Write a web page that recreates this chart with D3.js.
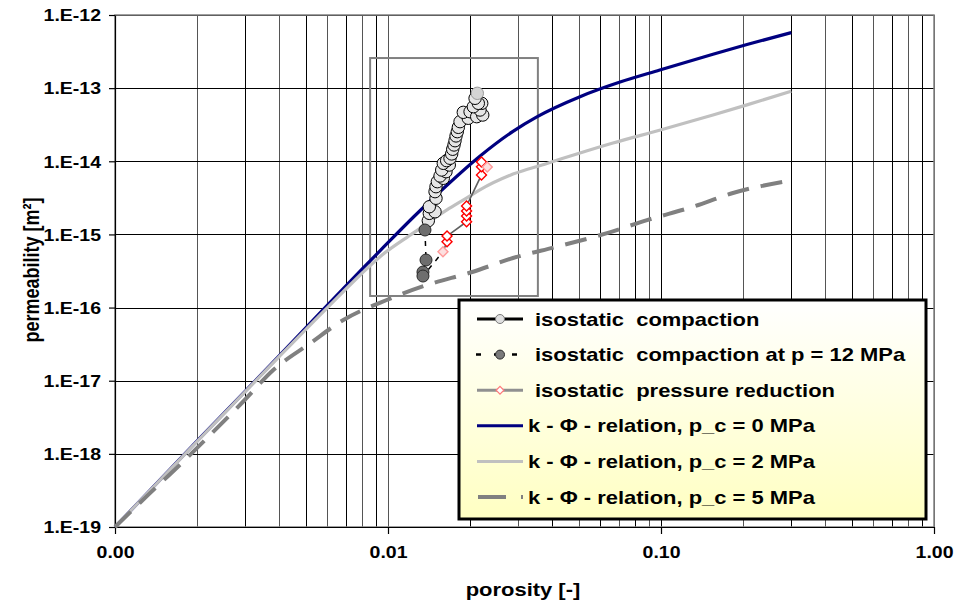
<!DOCTYPE html>
<html>
<head>
<meta charset="utf-8">
<script src="https://cdn.jsdelivr.net/npm/d3@7"></script>
<style>
  body { margin: 0; background: #fff; }
  svg { display: block; font-family: "Liberation Sans", Arial, sans-serif; font-weight: bold; }
</style>
</head>
<body>
<div id="chart"></div>
<script>
// Axis ticks
const xTickValues = [0.001, 0.01, 0.1, 1];
const xTickLabels = ['0.00', '0.01', '0.10', '1.00'];
const yTickValues = [1e-19, 1e-18, 1e-17, 1e-16, 1e-15, 1e-14, 1e-13, 1e-12];
const yTickLabels = ['1.E-19', '1.E-18', '1.E-17', '1.E-16', '1.E-15', '1.E-14', '1.E-13', '1.E-12'];

// Measurements: isostatic compaction
const compactionPhi = [0.01405, 0.01417, 0.01487, 0.01417, 0.01499, 0.01487, 0.01499, 0.01516, 0.01594, 0.01551,
    0.01631, 0.01573, 0.01677, 0.01594, 0.01640, 0.01687, 0.01711, 0.01726, 0.01745, 0.01760, 0.01775, 0.01794,
    0.01810, 0.01836, 0.01968, 0.01887, 0.01998, 0.02113, 0.02224, 0.02173, 0.02054, 0.02205, 0.02142, 0.02084, 0.02124];
const compactionK = [1.54e-15, 1.94e-15, 2.04e-15, 2.39e-15, 3.12e-15, 3.84e-15, 4.49e-15, 5.26e-15, 5.85e-15, 6.29e-15,
    7.20e-15, 7.60e-15, 8.89e-15, 9.38e-15, 1.02e-14, 1.10e-14, 1.26e-14, 1.46e-14, 1.67e-14, 1.91e-14, 2.22e-14, 2.54e-14,
    2.91e-14, 3.48e-14, 3.87e-14, 4.67e-14, 4.76e-14, 4.07e-14, 4.29e-14, 5.02e-14, 5.57e-14, 6.20e-14, 6.20e-14, 7.26e-14, 8.50e-14];

// Measurements: isostatic compaction at p = 12 MPa
const p12Phi = [0.01366, 0.01378, 0.01343, 0.01343];
const p12K = [1.15e-15, 4.47e-16, 3.06e-16, 2.70e-16];

// Measurements: isostatic pressure reduction
const reductionPhi = [0.0159, 0.01645, 0.01645, 0.0194, 0.0194, 0.0194, 0.0194, 0.0220, 0.0220, 0.0220, 0.0231];
const reductionK = [5.8e-16, 7.96e-16, 9.5e-16, 1.49e-15, 1.79e-15, 2.09e-15, 2.45e-15, 6.5e-15, 8.4e-15, 9.8e-15, 8.35e-15];

// k - Phi relations
const relation0Phi = [0.001, 0.002, 0.004, 0.006, 0.008, 0.0094, 0.0124, 0.0164, 0.0217, 0.0287, 0.0351, 0.0505, 0.0708, 0.099, 0.155, 0.2065, 0.3];
const relation0K = [1.0e-19, 1.5e-18, 2.2e-17, 1.08e-16, 3.3e-16, 6.1e-16, 1.73e-15, 4.67e-15, 1.175e-14, 2.57e-14, 4.05e-14, 7.64e-14, 1.21e-13, 1.77e-13, 2.91e-13, 3.95e-13, 5.74e-13];

const relation2Phi = [0.001, 0.002, 0.004, 0.006, 0.008, 0.00935, 0.01236, 0.01644, 0.01945, 0.0217, 0.0287, 0.0382, 0.0505, 0.0667, 0.0995, 0.155, 0.2065, 0.3];
const relation2K = [1.0e-19, 1.48e-18, 2.15e-17, 1.0e-16, 2.9e-16, 4.96e-16, 1.04e-15, 2.16e-15, 3.16e-15, 4.07e-15, 6.68e-15, 9.33e-15, 1.3e-14, 1.78e-14, 2.68e-14, 4.3e-14, 5.9e-14, 9.1e-14];

const relation5Phi = [0.001, 0.00134, 0.00175, 0.00223, 0.00295, 0.0038, 0.00518, 0.00686, 0.00989, 0.01386, 0.0205, 0.0287, 0.0416, 0.0634, 0.0889, 0.131, 0.1835, 0.3];
const relation5K = [1.0e-19, 2.88e-19, 7.4e-19, 1.81e-18, 5.2e-18, 1.4e-17, 3.24e-17, 6.76e-17, 1.27e-16, 2.03e-16, 3.09e-16, 4.76e-16, 6.8e-16, 1.04e-15, 1.57e-15, 2.39e-15, 3.68e-15, 5.5e-15];

// Zoom frame drawn around the measurements
const framePhi = [0.0086, 0.0354];
const frameK = [1.44e-16, 2.58e-13];

const legendLabels = [
    'isostatic  compaction',
    'isostatic  compaction at p = 12 MPa',
    'isostatic  pressure reduction',
    'k - \u03A6 - relation, p_c = 0 MPa',
    'k - \u03A6 - relation, p_c = 2 MPa',
    'k - \u03A6 - relation, p_c = 5 MPa'
];

// ---- layout ----
const width = 958, height = 610;
const plot = { left: 115, right: 934, top: 15, bottom: 527 };
const stretch = 'scale(1.22,1)';

const svg = d3.select('#chart')
    .append('svg')
    .attr('width', width)
    .attr('height', height);

const x = d3.scaleLog().domain([0.001, 1]).range([plot.left, plot.right]);
const y = d3.scaleLog().domain([1e-19, 1e-12]).range([plot.bottom, plot.top]);

const pts = (px, ky) => px.map((p, i) => [p, ky[i]]);

// Plot background
svg.append('rect')
    .attr('x', plot.left).attr('y', plot.top)
    .attr('width', plot.right - plot.left).attr('height', plot.bottom - plot.top)
    .attr('fill', '#fff');

// Vertical grid lines (every log tick)
svg.append('g')
    .attr('transform', `translate(0,${plot.top})`)
    .call(d3.axisBottom(x).ticks(10)
        .tickSize(plot.bottom - plot.top).tickSizeOuter(0).tickFormat(''))
    .call(g => g.select('.domain').remove())
    .selectAll('line')
    .attr('stroke', (d, i) => i % 2 ? '#555' : '#000')
    .attr('stroke-width', 1)
    .attr('shape-rendering', 'crispEdges');

// Horizontal grid lines (decades)
svg.append('g')
    .attr('transform', `translate(${plot.left},0)`)
    .call(d3.axisLeft(y).tickValues(yTickValues)
        .tickSize(-(plot.right - plot.left)).tickSizeOuter(0).tickFormat(''))
    .call(g => g.select('.domain').remove())
    .selectAll('line')
    .attr('stroke', '#000').attr('stroke-width', 1)
    .attr('shape-rendering', 'crispEdges');

// Plot border (grey top/right)
svg.append('rect')
    .attr('x', plot.left).attr('y', plot.top)
    .attr('width', plot.right - plot.left).attr('height', plot.bottom - plot.top)
    .attr('fill', 'none').attr('stroke', '#808080').attr('stroke-width', 1.5);

// Y axis
const yAxis = svg.append('g')
    .attr('transform', `translate(${plot.left},0)`)
    .call(d3.axisLeft(y).tickValues(yTickValues).tickSize(6).tickSizeOuter(0)
        .tickFormat((d, i) => yTickLabels[i]));
yAxis.attr('font-family', null).attr('font-size', 16);
yAxis.selectAll('line, path').attr('stroke', '#000').attr('stroke-width', 1.2);
yAxis.selectAll('text')
    .attr('x', null).attr('dy', '0.36em').attr('fill', '#000')
    .attr('transform', `translate(-14,0) ${stretch}`);

// X axis
const xAxis = svg.append('g')
    .attr('transform', `translate(0,${plot.bottom})`)
    .call(d3.axisBottom(x).tickValues(xTickValues).tickSize(7).tickSizeOuter(0)
        .tickFormat((d, i) => xTickLabels[i]));
xAxis.attr('font-family', null).attr('font-size', 16);
xAxis.selectAll('line, path').attr('stroke', '#000').attr('stroke-width', 1.2);
xAxis.selectAll('text')
    .attr('y', 31).attr('dy', null).attr('fill', '#000')
    .attr('transform', stretch);

// Axis titles
svg.append('text')
    .attr('transform', `translate(523,596) ${stretch}`)
    .attr('text-anchor', 'middle')
    .style('font-size', '18px')
    .text('porosity [-]');

svg.append('text')
    .attr('transform', `translate(39,270) ${stretch} rotate(-90)`)
    .attr('text-anchor', 'middle')
    .style('font-size', '18px')
    .text('permeability [m\u00B2]');

// Zoom frame
svg.append('rect')
    .attr('x', x(framePhi[0])).attr('y', y(frameK[1]))
    .attr('width', x(framePhi[1]) - x(framePhi[0]))
    .attr('height', y(frameK[0]) - y(frameK[1]))
    .attr('fill', 'none').attr('stroke', '#808080').attr('stroke-width', 2);

// Curves
const line = d3.line().x(d => x(d[0])).y(d => y(d[1]));
const smooth = d3.line().x(d => x(d[0])).y(d => y(d[1])).curve(d3.curveMonotoneX);

const plotArea = svg.append('g');

plotArea.append('path')
    .datum(pts(relation0Phi, relation0K))
    .attr('d', smooth).attr('fill', 'none')
    .attr('stroke', '#000080').attr('stroke-width', 3.2);

plotArea.append('path')
    .datum(pts(relation2Phi, relation2K))
    .attr('d', smooth).attr('fill', 'none')
    .attr('stroke', '#c0c0c0').attr('stroke-width', 3.2);

plotArea.append('path')
    .datum(pts(relation5Phi, relation5K))
    .attr('d', smooth).attr('fill', 'none')
    .attr('stroke', '#808080').attr('stroke-width', 4)
    .attr('stroke-dasharray', '22,12');

// Measurement lines
const compaction = pts(compactionPhi, compactionK);
const p12 = pts(p12Phi, p12K);
const reduction = pts(reductionPhi, reductionK);

plotArea.append('path')
    .datum(reduction)
    .attr('d', line).attr('fill', 'none')
    .attr('stroke', '#606060').attr('stroke-width', 1.6);

plotArea.append('path')
    .datum(p12.concat([reduction[0]]))
    .attr('d', line).attr('fill', 'none')
    .attr('stroke', '#000').attr('stroke-width', 1.5)
    .attr('stroke-dasharray', '5,6');

plotArea.append('path')
    .datum(compaction)
    .attr('d', line).attr('fill', 'none')
    .attr('stroke', '#000').attr('stroke-width', 1.5);

// Markers
plotArea.selectAll('.comp')
    .data(compaction)
    .enter().append('circle')
    .attr('class', 'comp')
    .attr('cx', d => x(d[0])).attr('cy', d => y(d[1]))
    .attr('r', 6.2)
    .attr('fill', (d, i) => i === compaction.length - 1 ? '#d4d4d4' : '#e6e6e6')
    .attr('stroke', (d, i) => i === compaction.length - 1 ? '#9a9a9a' : '#000')
    .attr('stroke-width', 1);

plotArea.selectAll('.p12')
    .data(p12)
    .enter().append('circle')
    .attr('class', 'p12')
    .attr('cx', d => x(d[0])).attr('cy', d => y(d[1]))
    .attr('r', 6)
    .attr('fill', '#6e6e6e').attr('stroke', '#2a2a2a').attr('stroke-width', 1);

const diamond = d3.symbol().type(d3.symbolSquare).size(50);
plotArea.selectAll('.red')
    .data(reduction)
    .enter().append('path')
    .attr('class', 'red')
    .attr('d', diamond)
    .attr('transform', d => `translate(${x(d[0])},${y(d[1])}) rotate(45)`)
    .attr('fill', (d, i) => (i === 0 || i === reduction.length - 1) ? '#fde0e0' : '#fff')
    .attr('stroke', (d, i) => (i === 0 || i === reduction.length - 1) ? '#ff9a9a' : '#ff0000')
    .attr('stroke-width', 1.4);

// Legend
const defs = svg.append('defs');
const grad = defs.append('linearGradient')
    .attr('id', 'legendFill')
    .attr('x1', 0).attr('y1', 0).attr('x2', 0).attr('y2', 1);
grad.append('stop').attr('offset', '0%').attr('stop-color', '#ffffff');
grad.append('stop').attr('offset', '100%').attr('stop-color', '#ffffc2');

const legend = svg.append('g');
legend.append('rect')
    .attr('x', 459).attr('y', 300)
    .attr('width', 467).attr('height', 219)
    .attr('fill', 'url(#legendFill)')
    .attr('stroke', '#000').attr('stroke-width', 3);

const rowY = i => 319 + i * 35.6;
const sx1 = 477, sx2 = 523, smid = 500;

// row 0: isostatic compaction
legend.append('line').attr('x1', sx1).attr('x2', sx2).attr('y1', rowY(0)).attr('y2', rowY(0))
    .attr('stroke', '#000').attr('stroke-width', 3);
legend.append('circle').attr('cx', smid).attr('cy', rowY(0)).attr('r', 4.5)
    .attr('fill', '#e0e0e0').attr('stroke', '#7a7a7a').attr('stroke-width', 1);

// row 1: p = 12 MPa
legend.append('line').attr('x1', 476).attr('x2', 520).attr('y1', rowY(1)).attr('y2', rowY(1))
    .attr('stroke', '#000').attr('stroke-width', 2.5).attr('stroke-dasharray', '5,13');
legend.append('circle').attr('cx', smid).attr('cy', rowY(1)).attr('r', 4.5)
    .attr('fill', '#7a7a7a').attr('stroke', '#2a2a2a').attr('stroke-width', 1);

// row 2: pressure reduction
legend.append('line').attr('x1', sx1).attr('x2', sx2).attr('y1', rowY(2)).attr('y2', rowY(2))
    .attr('stroke', '#909090').attr('stroke-width', 3);
legend.append('path')
    .attr('d', d3.symbol().type(d3.symbolSquare).size(30))
    .attr('transform', `translate(${smid},${rowY(2)}) rotate(45)`)
    .attr('fill', '#fff').attr('stroke', '#ff7a7a').attr('stroke-width', 1.2);

// rows 3-5: relations
legend.append('line').attr('x1', sx1).attr('x2', sx2).attr('y1', rowY(3)).attr('y2', rowY(3))
    .attr('stroke', '#000080').attr('stroke-width', 3);
legend.append('line').attr('x1', sx1).attr('x2', sx2).attr('y1', rowY(4)).attr('y2', rowY(4))
    .attr('stroke', '#c0c0c0').attr('stroke-width', 3);
legend.append('line').attr('x1', 478).attr('x2', 523).attr('y1', rowY(5)).attr('y2', rowY(5))
    .attr('stroke', '#808080').attr('stroke-width', 4).attr('stroke-dasharray', '28,15');

legend.selectAll('.label')
    .data(legendLabels)
    .enter().append('text')
    .attr('class', 'label')
    .attr('transform', (d, i) => `translate(${i < 3 ? 535 : 528},${rowY(i) + 6.5}) ${stretch}`)
    .style('font-size', '18px')
    .style('white-space', 'pre')
    .attr('fill', '#000')
    .text(d => d);
</script>
</body>
</html>
